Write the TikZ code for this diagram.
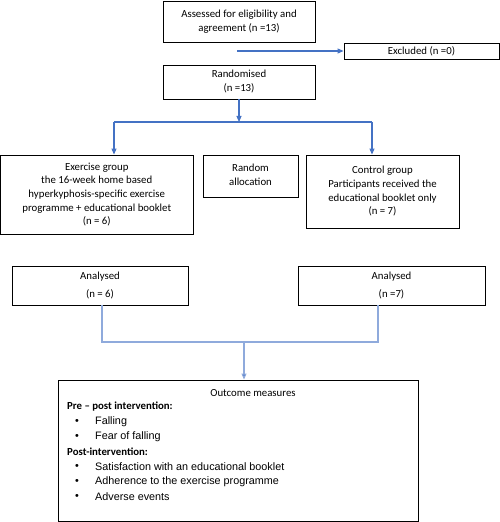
\documentclass[tikz,border=0pt]{standalone}
\usepackage{fontspec}
\setmainfont{Carlito}
\newfontfamily\arialf{Liberation Sans}
\usetikzlibrary{arrows.meta}
\definecolor{arrblue}{RGB}{68,114,196}
\definecolor{litblue}{RGB}{143,170,220}
\begin{document}
\begin{tikzpicture}[x=1bp,y=-1bp,
  box/.style={draw=black,line width=0.9bp,inner sep=0pt,align=center,font=\fontsize{10.8bp}{13.6bp}\selectfont},
  arr/.style={draw=arrblue,line width=1.1bp,-{Triangle[length=6bp,width=5bp]}},
  ln/.style={draw=arrblue,line width=1.1bp},
  lln/.style={draw=litblue,line width=1.1bp},
  larr/.style={draw=litblue,line width=1.1bp,-{Triangle[length=6bp,width=5bp,fill=arrblue]}},
  txt/.style={anchor=west,inner sep=0pt,font=\fontsize{10.8bp}{13bp}\selectfont},
  itm/.style={anchor=west,inner sep=0pt,font=\arialf\fontsize{10.8bp}{13bp}\selectfont}]
\useasboundingbox (0,0) rectangle (500,522);

\node[box,minimum width=152bp,minimum height=41bp] (assess) at (239,21.5) {Assessed for eligibility and\\agreement (n =13)};
\node[box,minimum width=155bp,minimum height=16bp] (excl) at (421.5,51) {Excluded (n =0)};
\node[box,minimum width=152bp,minimum height=34bp] (rand) at (239,82) {\raisebox{2bp}{\begin{tabular}{@{}c@{}}Randomised\\(n =13)\end{tabular}}};

\coordinate (exfrom) at (237,51);
\draw[arr] (exfrom) -- (exfrom -| excl.west);

\coordinate (split) at (239,122);
\coordinate (sl) at (114,122);
\coordinate (sr) at (372,122);
\draw[arr] (rand.south) -- (split);
\draw[ln] (sl) -- (sr);

\node[box,minimum width=192.5bp,minimum height=79bp] (ex) at (96.75,194.5) {Exercise group\\the 16-week home based\\hyperkyphosis-specific exercise\\programme + educational booklet\\(n = 6)};
\node[box,minimum width=95bp,minimum height=42bp] (ra) at (250.5,176) {\raisebox{2bp}{\begin{tabular}{@{}c@{}}Random\\allocation\end{tabular}}};
\node[box,minimum width=153bp,minimum height=73bp] (ctrl) at (382.5,191.5) {\raisebox{2bp}{\begin{tabular}{@{}c@{}}Control group\\Participants received the\\educational booklet only\\(n = 7)\end{tabular}}};

\draw[arr] (sl) -- (sl |- ex.north);
\draw[arr] (sr) -- (sr |- ctrl.north);

\node[box,minimum width=176bp,minimum height=39bp,font=\fontsize{10.8bp}{18bp}\selectfont] (anL) at (100,285.5) {Analysed\\(n = 6)};
\node[box,minimum width=187bp,minimum height=39bp,font=\fontsize{10.8bp}{18bp}\selectfont] (anR) at (391.5,285.5) {Analysed\\(n =7)};

\coordinate (jl) at (102,342);
\coordinate (jr) at (378,342);
\coordinate (jm) at (244,342);
\draw[lln] (jl |- anL.south) -- (jl) -- (jr) -- (jr |- anR.south);

\node[box,minimum width=360bp,minimum height=141bp] (out) at (238,450.5) {};
\draw[larr] (jm) -- (jm |- out.north);

\node[inner sep=0pt,font=\fontsize{10.8bp}{13bp}\selectfont] (omt) at (253,393) {Outcome measures};
\node[txt,font=\bfseries\fontsize{10.8bp}{13bp}\selectfont] (pre) at (67,407) {Pre -- post intervention:};
\node[itm] (b1) at (75,422) {•};
\node[itm] (i1) at (95,422) {Falling};
\node[itm] (b2) at (75,437) {•};
\node[itm] (i2) at (95,437) {Fear of falling};
\node[txt,font=\bfseries\fontsize{10.8bp}{13bp}\selectfont] (post) at (67,452) {Post-intervention:};
\node[itm] (b3) at (75,467) {•};
\node[itm] (i3) at (95,467) {Satisfaction with an educational booklet};
\node[itm] (b4) at (75,482) {•};
\node[itm] (i4) at (95,482) {Adherence to the exercise programme};
\node[itm] (b5) at (75,497) {•};
\node[itm] (i5) at (95,497) {Adverse events};
\end{tikzpicture}
\end{document}
